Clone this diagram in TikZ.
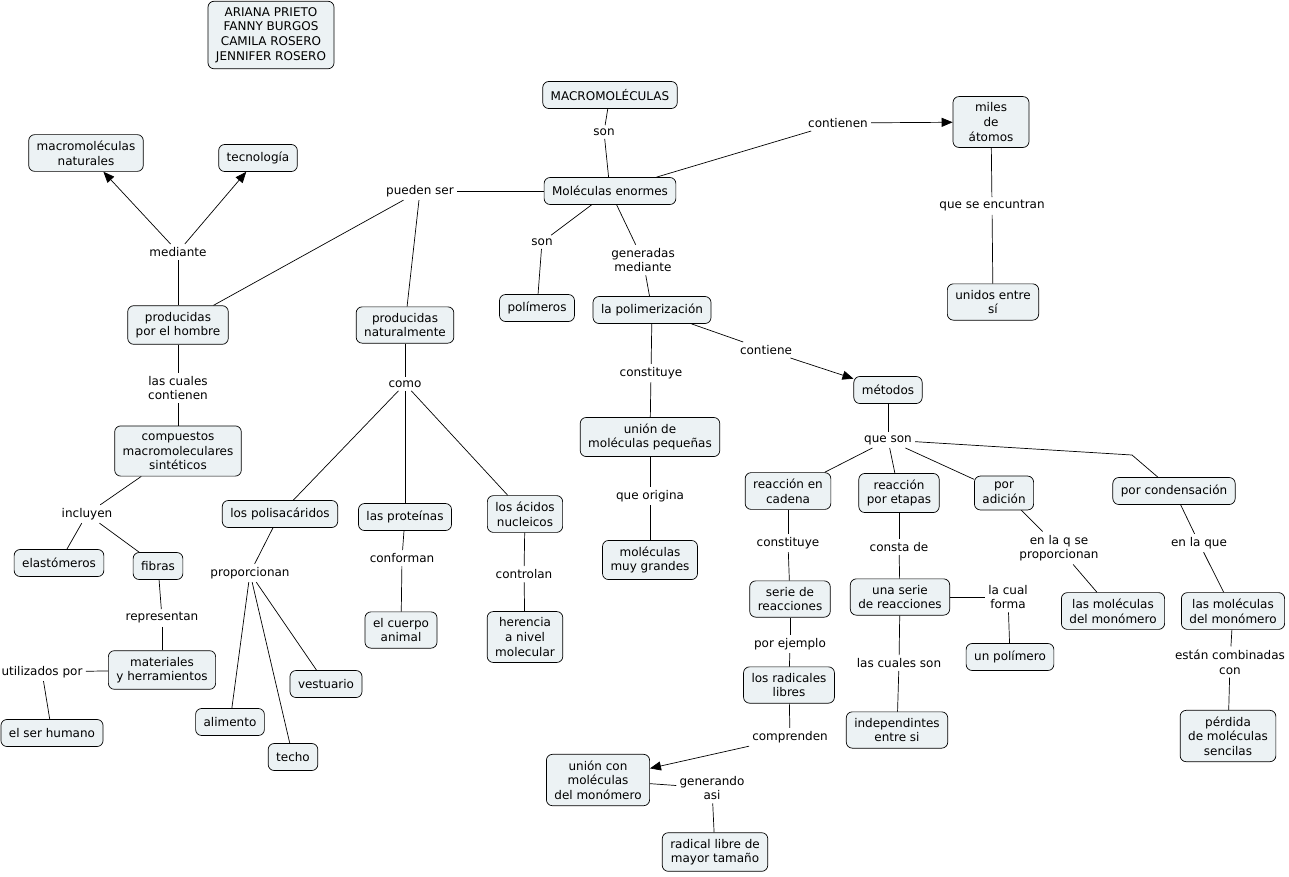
\documentclass[tikz,border=0pt]{standalone}
\usepackage{fontspec}
\setmainfont{DejaVu Sans}
\usetikzlibrary{arrows.meta}
\definecolor{conceptfill}{RGB}{236,242,244}

\begin{document}
\begin{tikzpicture}[x=1pt,y=-1pt,
    font=\fontsize{12}{14.6}\selectfont,
    concept/.style={draw,fill=conceptfill,rounded corners=6pt,line width=0.7pt,
        align=center,inner xsep=8pt,inner ysep=6.2pt,minimum height=27pt},
    phrase/.style={align=center,inner sep=3pt},
    every path/.style={line width=0.7pt},
    tip/.style={-{Triangle[length=11pt,width=9pt]}}]
    \useasboundingbox (0,0) rectangle (1289,876);
    % concepts
    \path ( 271,  35) node [concept] (autores) {ARIANA PRIETO\\FANNY BURGOS\\CAMILA ROSERO\\JENNIFER ROSERO};
    \path ( 610,  95) node [concept] (macro) {MACROMOLÉCULAS};
    \path ( 610, 191) node [concept] (enormes) {Moléculas enormes};
    \path ( 991, 122) node [concept,minimum width=76pt] (miles) {miles\\de\\átomos};
    \path ( 993, 302) node [concept] (unidos) {unidos entre\\sí};
    \path (  86, 153) node [concept] (macnat) {macromoléculas\\naturales};
    \path ( 258, 158) node [concept] (tecno) {tecnología};
    \path ( 178, 325) node [concept] (hombre) {producidas\\por el hombre};
    \path ( 405, 325) node [concept] (natural) {producidas\\naturalmente};
    \path ( 537, 308) node [concept] (polimeros) {polímeros};
    \path ( 652, 310) node [concept] (polimer) {la polimerización};
    \path ( 888, 390) node [concept] (metodos) {métodos};
    \path ( 178, 451) node [concept] (compuestos) {compuestos\\macromoleculares\\sintéticos};
    \path ( 280, 514) node [concept] (polisac) {los polisacáridos};
    \path ( 405, 517) node [concept] (proteinas) {las proteínas};
    \path ( 525, 514) node [concept] (acidos) {los ácidos\\nucleicos};
    \path ( 650, 437) node [concept] (union) {unión de\\moléculas pequeñas};
    \path ( 650, 560) node [concept] (grandes) {moléculas\\muy grandes};
    \path ( 788, 491) node [concept] (cadena) {reacción en\\cadena};
    \path ( 899, 493) node [concept] (etapas) {reacción\\por etapas};
    \path (1004, 493) node [concept] (adicion) {por\\adición};
    \path (1174, 491) node [concept] (condens) {por condensación};
    \path (  59, 563) node [concept] (elast) {elastómeros};
    \path ( 158, 566) node [concept] (fibras) {fibras};
    \path ( 162, 670) node [concept] (materiales) {materiales\\y herramientos};
    \path (  52, 733) node [concept] (serhum) {el ser humano};
    \path ( 230, 722) node [concept] (alimento) {alimento};
    \path ( 293, 757) node [concept] (techo) {techo};
    \path ( 326, 684) node [concept] (vestuario) {vestuario};
    \path ( 401, 630) node [concept] (cuerpo) {el cuerpo\\animal};
    \path ( 525, 637) node [concept] (herencia) {herencia\\a nivel\\molecular};
    \path ( 790, 599) node [concept] (serie) {serie de\\reacciones};
    \path ( 789, 685) node [concept] (radicales) {los radicales\\libres};
    \path ( 900, 597) node [concept] (unaserie) {una serie\\de reacciones};
    \path (1010, 657) node [concept] (polimero) {un polímero};
    \path (1113, 611) node [concept] (monoA) {las moléculas\\del monómero};
    \path (1233, 611) node [concept] (monoB) {las moléculas\\del monómero};
    \path ( 897, 730) node [concept] (independ) {independintes\\entre si};
    \path (1228, 736) node [concept] (perdida) {pérdida\\de moléculas\\sencilas};
    \path ( 598, 780) node [concept] (unionmono) {unión con\\moléculas\\del monómero};
    \path ( 715, 852) node [concept] (radmayor) {radical libre de\\mayor tamaño};
    % linking phrases
    \path ( 604, 132) node [phrase] (son) {son};
    \path ( 838, 123) node [phrase] (contienen) {contienen};
    \path ( 992, 206) node [phrase] (encuentran) {que se encuntran};
    \path ( 420, 191) node [phrase] (pueden) {pueden ser};
    \path ( 542, 242) node [phrase] (sonb) {son};
    \path ( 643, 260) node [phrase] (generadas) {generadas\\mediante};
    \path ( 178, 252) node [phrase] (mediante) {mediante};
    \path ( 178, 388) node [phrase] (cuales) {las cuales\\contienen};
    \path ( 405, 384) node [phrase] (como) {como};
    \path (  87, 514) node [phrase] (incluyen) {incluyen};
    \path ( 162, 618) node [phrase] (representan) {representan};
    \path (  42, 672) node [phrase] (utilizados) {utilizados por};
    \path ( 250, 573) node [phrase] (proporcionan) {proporcionan};
    \path ( 402, 558) node [phrase] (conforman) {conforman};
    \path ( 524, 574) node [phrase] (controlan) {controlan};
    \path ( 651, 373) node [phrase] (constituye) {constituye};
    \path ( 650, 496) node [phrase] (origina) {que origina};
    \path ( 766, 350) node [phrase] (contiene) {contiene};
    \path ( 888, 440) node [phrase] (queson) {que son};
    \path ( 788, 543) node [phrase] (constituyeb) {constituye};
    \path ( 790, 644) node [phrase] (ejemplo) {por ejemplo};
    \path ( 790, 737) node [phrase] (comprenden) {comprenden};
    \path ( 712, 788) node [phrase] (generando) {generando\\asi};
    \path ( 899, 547) node [phrase] (consta) {consta de};
    \path (1008, 597) node [phrase] (forma) {la cual\\forma};
    \path ( 899, 663) node [phrase] (cualesson) {las cuales son};
    \path (1059, 548) node [phrase] (enlaq) {en la q se\\proporcionan};
    \path (1199, 543) node [phrase] (enlaque) {en la que};
    \path (1230, 662) node [phrase] (combinadas) {están combinadas\\con};
    \coordinate (codo) at (1132,455);
    % connectors
    \draw (macro) -- (son);
    \draw (son) -- (enormes);
    \draw (enormes) -- (contienen);
    \draw [tip] (contienen) -- (miles);
    \draw (miles) -- (encuentran);
    \draw (encuentran) -- (unidos);
    \draw (enormes) -- (pueden);
    \draw (pueden) -- (hombre);
    \draw (pueden) -- (natural);
    \draw (enormes) -- (sonb);
    \draw (sonb) -- (polimeros);
    \draw (enormes) -- (generadas);
    \draw (generadas) -- (polimer);
    \draw (hombre) -- (mediante);
    \draw [tip] (mediante) -- (macnat);
    \draw [tip] (mediante) -- (tecno);
    \draw (hombre) -- (cuales);
    \draw (cuales) -- (compuestos);
    \draw (compuestos) -- (incluyen);
    \draw (incluyen) -- (elast);
    \draw (incluyen) -- (fibras);
    \draw (fibras) -- (representan);
    \draw (representan) -- (materiales);
    \draw (materiales) -- (utilizados);
    \draw (utilizados) -- (serhum);
    \draw (natural) -- (como);
    \draw (como) -- (polisac);
    \draw (como) -- (proteinas);
    \draw (como) -- (acidos);
    \draw (polisac) -- (proporcionan);
    \draw (proporcionan) -- (alimento);
    \draw (proporcionan) -- (techo);
    \draw (proporcionan) -- (vestuario);
    \draw (proteinas) -- (conforman);
    \draw (conforman) -- (cuerpo);
    \draw (acidos) -- (controlan);
    \draw (controlan) -- (herencia);
    \draw (polimer) -- (constituye);
    \draw (constituye) -- (union);
    \draw (union) -- (origina);
    \draw (origina) -- (grandes);
    \draw (polimer) -- (contiene);
    \draw [tip] (contiene) -- (metodos);
    \draw (metodos) -- (queson);
    \draw (queson) -- (cadena);
    \draw (queson) -- (etapas);
    \draw (queson) -- (adicion);
    \draw (queson) -- (codo) -- (condens);
    \draw (cadena) -- (constituyeb);
    \draw (constituyeb) -- (serie);
    \draw (serie) -- (ejemplo);
    \draw (ejemplo) -- (radicales);
    \draw (radicales) -- (comprenden);
    \draw [tip] (comprenden) -- (unionmono);
    \draw (unionmono) -- (generando);
    \draw (generando) -- (radmayor);
    \draw (etapas) -- (consta);
    \draw (consta) -- (unaserie);
    \draw (unaserie) -- (forma);
    \draw (forma) -- (polimero);
    \draw (unaserie) -- (cualesson);
    \draw (cualesson) -- (independ);
    \draw (adicion) -- (enlaq);
    \draw (enlaq) -- (monoA);
    \draw (condens) -- (enlaque);
    \draw (enlaque) -- (monoB);
    \draw (monoB) -- (combinadas);
    \draw (combinadas) -- (perdida);
\end{tikzpicture}
\end{document}
